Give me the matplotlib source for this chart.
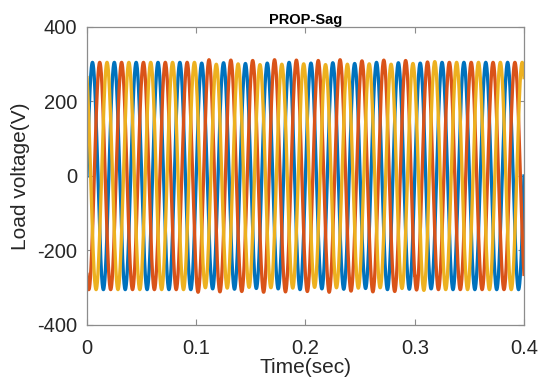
import numpy as np
import matplotlib.pyplot as plt

plt.rcParams['font.family'] = ['Liberation Sans', 'DejaVu Sans']
plt.rcParams['axes.unicode_minus'] = False

# three-phase load voltage, 50 Hz, 0 - 0.4 s (20 cycles)
freq = 50.0
t_end = 0.4
phase_deg = {'A': 0, 'B': -120, 'C': 120}

# peak value of each cycle (V)
peak_a = [305, 305, 305, 305, 305, 303, 304, 302, 303, 305,
          303, 304, 302, 305, 304, 303, 305, 305, 305, 305]
peak_b = [305, 305, 305, 305, 305, 312, 311, 310, 312, 311,
          310, 312, 309, 311, 310, 306, 305, 305, 305, 305]
peak_c = [305, 305, 305, 305, 305, 300, 301, 299, 300, 301,
          299, 300, 301, 300, 302, 307, 305, 305, 305, 305]

colors = ['#0072BD', '#D95319', '#EDB120']

t = np.linspace(0, t_end, 8000)
cycle = np.minimum((t * freq).astype(int), len(peak_a) - 1)

fig = plt.figure(figsize=(5.42, 3.79), dpi=100)
ax = fig.add_axes([0.1605, 0.1425, 0.8063, 0.7863])

for peaks, ph, c in zip([peak_a, peak_b, peak_c], phase_deg.values(), colors):
    amp = np.array(peaks)[cycle]
    v = amp * np.sin(2 * np.pi * freq * t + np.deg2rad(ph))
    ax.plot(t, v, color=c, linewidth=2.4)

ax.set_xlim(0, 0.4)
ax.set_ylim(-400, 400)
ax.set_xticks([0, 0.1, 0.2, 0.3, 0.4])
ax.set_xticklabels(['0', '0.1', '0.2', '0.3', '0.4'])
ax.set_yticks([-400, -200, 0, 200, 400])

for s in ax.spines.values():
    s.set_color('#8c8c8c')
    s.set_linewidth(0.9)
ax.tick_params(direction='in', top=True, right=True, length=4,
               color='#8c8c8c', labelsize=14.5, labelcolor='#262626', pad=7)
ax.tick_params(axis='x', pad=10)

ax.set_xlabel('Time(sec)', fontsize=15, color='#262626', labelpad=0)
ax.set_ylabel('Load voltage(V)', fontsize=15, color='#262626', labelpad=5)
ax.set_title('PROP-Sag', fontsize=10.5, fontweight='bold', pad=2)

fig.savefig('out.png', dpi=100)
